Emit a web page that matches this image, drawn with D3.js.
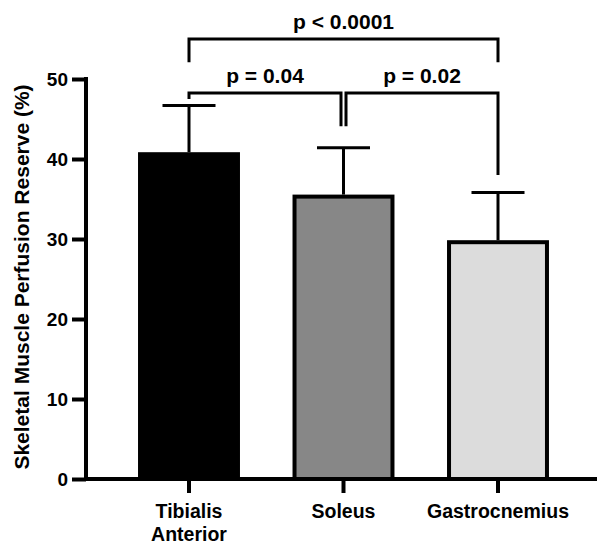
<!DOCTYPE html>
<html>
<head>
<meta charset="utf-8">
<script src="https://cdn.jsdelivr.net/npm/d3@7"></script>
<style>
  body { margin: 0; background: #fff; }
  text { font-family: "Liberation Sans", Arial, sans-serif; font-weight: bold; fill: #000; }
</style>
</head>
<body>
<div id="chart"></div>
<script>
// chart values
const categories = ["Tibialis Anterior", "Soleus", "Gastrocnemius"];
const means = [40.6, 35.3, 29.6];
const sds = [6.1, 6.1, 6.2];
const barColors = ["#000000", "#878787", "#dcdcdc"];
const yTicks = [0, 10, 20, 30, 40, 50];

// significance brackets: from/to category index, bar level, leg ends (data units)
const pLabels = ["p < 0.0001", "p = 0.04", "p = 0.02"];
const pFrom = [0, 0, 1];
const pTo = [2, 1, 2];
const pLevel = [55, 48.25, 48.25];
const pLegFrom = [52.1, 47.5, 44.1];
const pLegTo = [52.1, 44.1, 38.0];

const width = 597, height = 547;
const margin = { top: 79, bottom: 68, left: 86 };

const svg = d3.select("#chart")
    .append("svg")
    .attr("width", width)
    .attr("height", height);

const y = d3.scaleLinear()
    .domain([0, 50])
    .range([height - margin.bottom, margin.top]);

// band centred so the bars sit at 189 / 344 / 498
const x = d3.scaleBand()
    .domain(categories)
    .range([111.75, 575.25])
    .paddingInner(0.366)
    .paddingOuter(0.183);

const cx = function (i) { return x(categories[i]) + x.bandwidth() / 2; };

// bars
svg.selectAll("rect.bar")
    .data(categories)
    .join("rect")
    .attr("class", "bar")
    .attr("x", d => x(d))
    .attr("y", (d, i) => y(means[i]))
    .attr("width", x.bandwidth())
    .attr("height", (d, i) => y(0) - y(means[i]))
    .attr("fill", (d, i) => barColors[i])
    .attr("stroke", "#000")
    .attr("stroke-width", 4);

// error bars (upper only)
const capHalf = 26.5;
svg.selectAll("line.err")
    .data(categories)
    .join("line")
    .attr("class", "err")
    .attr("x1", (d, i) => cx(i))
    .attr("x2", (d, i) => cx(i))
    .attr("y1", (d, i) => y(means[i]) - 2)
    .attr("y2", (d, i) => y(means[i] + sds[i]))
    .attr("stroke", "#000")
    .attr("stroke-width", 3);
svg.selectAll("line.cap")
    .data(categories)
    .join("line")
    .attr("class", "cap")
    .attr("x1", (d, i) => cx(i) - capHalf)
    .attr("x2", (d, i) => cx(i) + capHalf)
    .attr("y1", (d, i) => y(means[i] + sds[i]))
    .attr("y2", (d, i) => y(means[i] + sds[i]))
    .attr("stroke", "#000")
    .attr("stroke-width", 3);

// y axis
const yAxis = svg.append("g")
    .attr("transform", `translate(${margin.left},0)`)
    .call(d3.axisLeft(y).tickValues(yTicks).tickSize(14).tickPadding(4));
yAxis.select(".domain").remove();
yAxis.selectAll(".tick line").attr("stroke-width", 4);
yAxis.selectAll(".tick text")
    .style("font-size", "19px")
    .style("font-family", "'Liberation Sans', Arial, sans-serif")
    .style("font-weight", "bold");
svg.append("line")
    .attr("x1", margin.left).attr("x2", margin.left)
    .attr("y1", y(50) - 2).attr("y2", y(0) + 2)
    .attr("stroke", "#000").attr("stroke-width", 4);

// x axis
const xAxis = svg.append("g")
    .attr("transform", `translate(0,${y(0)})`)
    .call(d3.axisBottom(x).tickSize(14).tickFormat(""));
xAxis.select(".domain").remove();
xAxis.selectAll(".tick line").attr("stroke-width", 4);
svg.append("line")
    .attr("x1", margin.left - 2).attr("x2", width)
    .attr("y1", y(0)).attr("y2", y(0))
    .attr("stroke", "#000").attr("stroke-width", 4);

// category labels, wrapped on spaces for the first one
svg.selectAll("text.cat")
    .data(categories)
    .join("text")
    .attr("class", "cat")
    .attr("text-anchor", "middle")
    .attr("x", (d, i) => cx(i))
    .attr("y", y(0) + 39)
    .style("font-size", "19.5px")
    .each(function (d) {
        const words = d === "Gastrocnemius" || d === "Soleus" ? [d] : d.split(" ");
        const t = d3.select(this);
        words.forEach((w, k) => {
            t.append("tspan")
                .attr("x", t.attr("x"))
                .attr("dy", k === 0 ? 0 : 23)
                .text(w);
        });
    });

// y title
svg.append("text")
    .attr("transform", "translate(29,277) rotate(-90)")
    .attr("text-anchor", "middle")
    .style("font-size", "21px")
    .text("Skeletal Muscle Perfusion Reserve (%)");

// significance brackets
pLabels.forEach(function (lab, k) {
    const x1 = cx(pFrom[k]) + (pFrom[k] === 1 ? 2.5 : 0);
    const x2 = cx(pTo[k]) + (pTo[k] === 1 ? -2.5 : 0);
    const path = d3.path();
    path.moveTo(x1, y(pLegFrom[k]));
    path.lineTo(x1, y(pLevel[k]));
    path.lineTo(x2, y(pLevel[k]));
    path.lineTo(x2, y(pLegTo[k]));
    svg.append("path")
        .attr("d", path.toString())
        .attr("fill", "none")
        .attr("stroke", "#000")
        .attr("stroke-width", 3);
    svg.append("text")
        .attr("x", (x1 + x2) / 2)
        .attr("y", y(pLevel[k]) - 10)
        .attr("text-anchor", "middle")
        .style("font-size", "21px")
        .text(lab);
});
</script>
</body>
</html>
